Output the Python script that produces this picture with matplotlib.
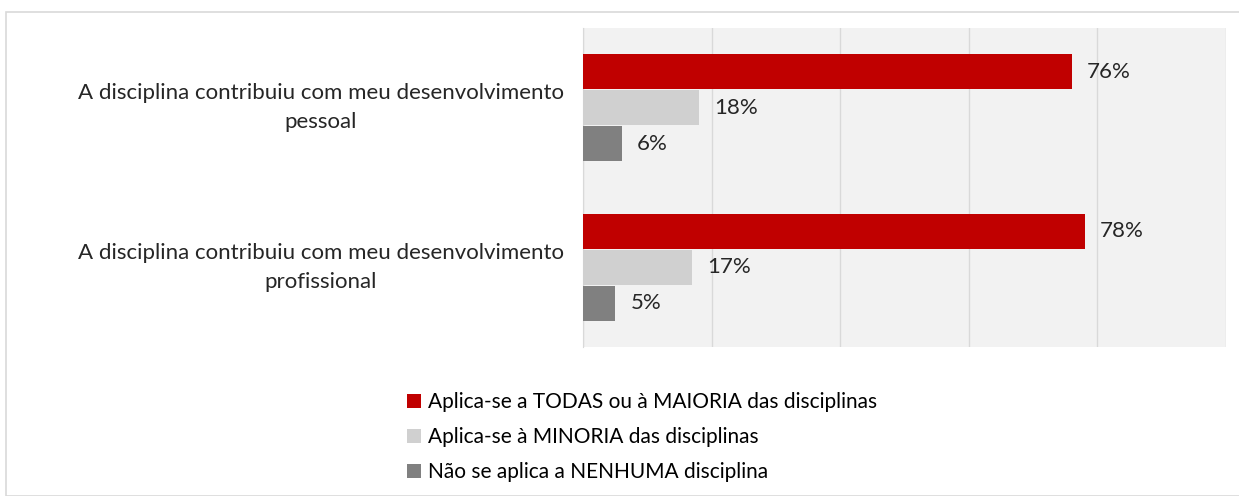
import numpy as np
import matplotlib
matplotlib.use("Agg")
import matplotlib.pyplot as plt
from matplotlib.patches import Patch, Rectangle

plt.rcParams['font.family'] = ['Lato', 'DejaVu Sans']

# dados
categorias = [
    "A disciplina contribuiu com meu desenvolvimento\npessoal",
    "A disciplina contribuiu com meu desenvolvimento\nprofissional",
]
series = [
    "Aplica-se a TODAS ou à MAIORIA das disciplinas",
    "Aplica-se à MINORIA das disciplinas",
    "Não se aplica a NENHUMA disciplina",
]
todas_maioria = [76, 78]
minoria = [18, 17]
nenhuma = [6, 5]
cores = ["#C00000", "#D0D0D0", "#808080"]

fig = plt.figure(figsize=(12.39, 4.96), dpi=100)

# moldura externa
fig.patches.append(Rectangle((6 / 1239, 0.0), 1.2, 1 - 12 / 496,
                             transform=fig.transFigure, fill=False,
                             edgecolor="#D9D9D9", linewidth=1.2))

ax = fig.add_axes([583 / 1239, 1 - 347 / 496, 643 / 1239, 319 / 496])
ax.set_facecolor("#F2F2F2")

y = np.arange(len(categorias))
altura = 0.22
deslocamentos = [-0.225, 0.0, 0.225]
valores = [todas_maioria, minoria, nenhuma]

for vals, cor, desl, nome in zip(valores, cores, deslocamentos, series):
    barras = ax.barh(y + desl, vals, height=altura, color=cor, label=nome, zorder=3)
    for b, v in zip(barras, vals):
        ax.annotate(f"{v}%", (b.get_width(), b.get_y() + b.get_height() / 2),
                    xytext=(11, 0), textcoords="offset points",
                    va="center", ha="left", fontsize=16, color="#262626")

ax.set_xlim(0, 100)
ax.set_ylim(1.5, -0.5)
ax.set_xticks(np.arange(0, 101, 20))
ax.set_xticklabels([])
ax.grid(axis="x", color="#D9D9D9", linewidth=1, zorder=0)
ax.set_yticks(y)
ax.set_yticklabels(categorias, fontsize=16, color="#262626", va="center",
                   ha="center", multialignment="center", linespacing=1.55)
ax.tick_params(axis="both", length=0)
ax.tick_params(axis="y", pad=189)
for s in ["top", "right", "bottom"]:
    ax.spines[s].set_visible(False)
ax.spines["left"].set_color("#D9D9D9")

handles = [Patch(facecolor=c, edgecolor="none") for c in cores]
fig.legend(handles, series, loc="upper left",
           bbox_to_anchor=(399 / 1239, 1 - 384 / 496),
           frameon=False, fontsize=15, handlelength=0.65, handleheight=0.65,
           handletextpad=0.35, labelspacing=0.72, borderaxespad=0)

fig.savefig("out.png", dpi=100)
